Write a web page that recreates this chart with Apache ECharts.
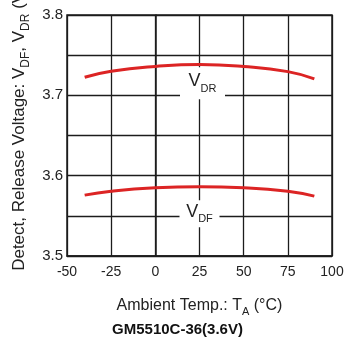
<!DOCTYPE html>
<html><head><meta charset="utf-8">
<script src="https://cdn.jsdelivr.net/npm/echarts@6/dist/echarts.min.js"></script>
<style>html,body{margin:0;padding:0;background:#fff}#c{width:355px;height:344px}</style>
</head><body><div id="c"></div>
<script>
var temps = [-40, -25, 0, 25, 50, 75, 90];
var vdr = [3.7225, 3.7300, 3.7360, 3.7385, 3.7360, 3.7295, 3.7205];
var vdf = [3.5758, 3.5807, 3.5849, 3.5862, 3.5850, 3.5807, 3.5745];
var xTicks = [-50, -25, 0, 25, 50, 75, 100];
var yTicks = [3.5, 3.6, 3.7, 3.8];
var seriesNames = ['DR', 'DF'];
var chartTitle = 'GM5510C-36(3.6V)';

var font = 'Liberation Sans, Arial, sans-serif';
var chart = echarts.init(document.getElementById('c'), null, {renderer: 'canvas'});
function pairs(ys) { return temps.map(function (t, i) { return [t, ys[i]]; }); }
var lineCol = '#1c1c1c';
function labelMark(name, coord, offset, size) {
  return {
    silent: true,
    animation: false,
    data: [{
      coord: coord,
      symbol: 'rect',
      symbolSize: size,
      symbolOffset: offset,
      itemStyle: {color: '#fff'},
      label: {
        show: true, position: 'inside',
        formatter: '{v|V}{s|' + name + '}',
        rich: {
          v: {fontFamily: font, fontSize: 18, color: '#222', padding: [0, 0, 4, 0], verticalAlign: 'bottom'},
          s: {fontFamily: font, fontSize: 11, color: '#222', verticalAlign: 'bottom'}
        }
      }
    }]
  };
}
chart.setOption({
  animation: false,
  title: {
    text: chartTitle, left: 'center', top: 317,
    textStyle: {fontFamily: font, fontSize: 15, fontWeight: 'bold', color: '#111'}
  },
  grid: {left: 67, right: 23, top: 15, bottom: 88, show: true, borderColor: lineCol, borderWidth: 1.5,
         containLabel: false, outerBoundsMode: 'none'},
  xAxis: {
    type: 'value', min: xTicks[0], max: xTicks[xTicks.length - 1], interval: 25,
    axisLine: {show: true, lineStyle: {color: lineCol, width: 1.5}},
    axisTick: {show: false},
    splitLine: {show: true, lineStyle: {color: lineCol, width: 1.3}},
    axisLabel: {fontFamily: font, fontSize: 14, color: '#222', margin: 9},
    name: '{n|Ambient Temp.: T}{s|A}{n| (°C)}',
    nameLocation: 'middle', nameGap: 42,
    nameTextStyle: {
      rich: {
        n: {fontFamily: font, fontSize: 16, color: '#222', padding: [0, 0, 3, 0], verticalAlign: 'bottom'},
        s: {fontFamily: font, fontSize: 11, color: '#222', verticalAlign: 'bottom'}
      }
    }
  },
  yAxis: {
    type: 'value', min: yTicks[0], max: yTicks[yTicks.length - 1], interval: 0.05,
    axisLine: {show: true, lineStyle: {color: lineCol, width: 1.5}},
    axisTick: {show: false},
    splitLine: {show: true, lineStyle: {color: lineCol, width: 1.3}},
    axisLabel: {
      fontFamily: font, fontSize: 15, color: '#222', margin: 4, padding: [4, 0, 0, 0],
      formatter: function (v) {
        for (var i = 0; i < yTicks.length; i++) if (Math.abs(yTicks[i] - v) < 1e-6) return yTicks[i].toFixed(1);
        return '';
      }
    },
    name: '{n|Detect, Release Voltage: V}{s|DF}{n|, V}{s|DR}{n| (V)}',
    nameLocation: 'middle', nameGap: 31, nameRotate: 90,
    nameTextStyle: {
      padding: [0, 0, 0, 14],
      rich: {
        n: {fontFamily: font, fontSize: 17, color: '#222', padding: [0, 0, 3, 0], verticalAlign: 'bottom'},
        s: {fontFamily: font, fontSize: 12, color: '#222', verticalAlign: 'bottom'}
      }
    }
  },
  series: [
    {
      name: 'V' + seriesNames[0], type: 'line', data: pairs(vdr), smooth: 0.5, showSymbol: false,
      lineStyle: {color: '#dc2424', width: 3}, z: 3,
      markPoint: labelMark(seriesNames[0], [25, 3.7], [3, -12], [45, 32])
    },
    {
      name: 'V' + seriesNames[1], type: 'line', data: pairs(vdf), smooth: 0.5, showSymbol: false,
      lineStyle: {color: '#dc2424', width: 3}, z: 3,
      markPoint: labelMark(seriesNames[1], [25, 3.55], [0, -2], [40, 27])
    }
  ]
});
</script></body></html>
